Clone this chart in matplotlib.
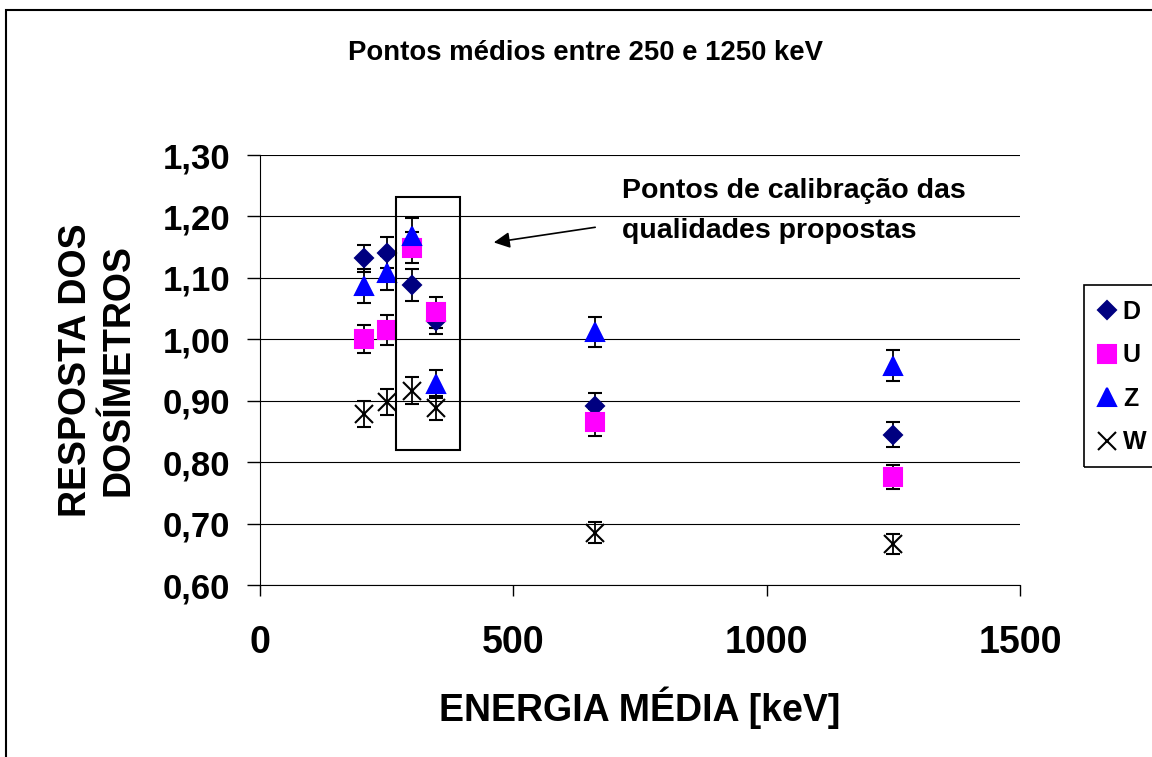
import matplotlib
matplotlib.use("Agg")
import matplotlib.pyplot as plt
from matplotlib.lines import Line2D
from matplotlib.patches import Rectangle
from matplotlib.ticker import FuncFormatter

plt.rcParams['font.family'] = ['Liberation Sans', 'DejaVu Sans']
plt.rcParams['font.weight'] = 'bold'

# mean energies [keV] and dosimeter responses
energia = [205, 250, 300, 347, 661, 1250]

resp_D = [1.132, 1.141, 1.089, 1.030, 0.891, 0.845]
err_D = [0.022, 0.025, 0.026, 0.022, 0.022, 0.021]
resp_U = [1.001, 1.015, 1.149, 1.044, 0.865, 0.776]
err_U = [0.023, 0.025, 0.025, 0.025, 0.022, 0.019]
resp_Z = [1.087, 1.108, 1.168, 0.927, 1.012, 0.957]
err_Z = [0.028, 0.027, 0.030, 0.023, 0.025, 0.025]
resp_W = [0.879, 0.898, 0.916, 0.888, 0.685, 0.667]
err_W = [0.021, 0.021, 0.022, 0.020, 0.017, 0.016]

series = [
    ("D", resp_D, err_D, "D", 9.3, "#000080"),
    ("U", resp_U, err_U, "s", 13, "#FF00FF"),
    ("Z", resp_Z, err_Z, "^", 13, "#0000FF"),
    ("W", resp_W, err_W, "x", 13, "black"),
]

fig = plt.figure(figsize=(11.52, 7.57), dpi=100)
ax = fig.add_axes([260 / 1152, 1 - 585 / 757, 760 / 1152, 430 / 757])

handles = []
for nome, y, e, mk, ms, cor in series:
    ax.errorbar(energia, y, yerr=e, fmt=mk, ms=ms, color=cor, mec=cor,
                mew=1.5, ecolor="black", elinewidth=1.3, capsize=5, capthick=1.3)
    handles.append(Line2D([], [], ls="none", marker=mk, ms=ms, color=cor,
                          mec=cor, mew=1.5, label=nome))

ax.set_xlim(0, 1500)
ax.set_ylim(0.60, 1.30)
ax.set_xticks([0, 500, 1000, 1500])
ax.set_yticks([0.6, 0.7, 0.8, 0.9, 1.0, 1.1, 1.2, 1.3])
ax.yaxis.set_major_formatter(FuncFormatter(lambda v, p: f"{v:.2f}".replace(".", ",")))
ax.tick_params(axis="x", labelsize=27, length=8, width=1, pad=21)
ax.tick_params(axis="y", labelsize=25, length=9.5, width=1, pad=12)
ax.yaxis.grid(True, color="black", lw=0.8)
ax.set_axisbelow(True)
for s in ["top", "right"]:
    ax.spines[s].set_visible(False)

ax.set_xlabel("ENERGIA MÉDIA [keV]", fontsize=27, fontweight="bold")
ax.xaxis.set_label_coords(0.5, -0.237)
ax.set_ylabel("RESPOSTA DOS\nDOSÍMETROS", fontsize=27, fontweight="bold", linespacing=1.22)
ax.yaxis.set_label_coords(-0.163, 0.5)

# box around calibration points
ax.add_patch(Rectangle((268, 0.820), 126, 0.412, fill=False, lw=1.5,
                       ec="black", clip_on=False, zorder=5))
ax.annotate("", xy=(456, 1.157), xytext=(667, 1.183),
            arrowprops=dict(arrowstyle="-|>", color="black", lw=1.2, mutation_scale=24))

fig.text(622 / 1152, 1 - 198 / 757, "Pontos de calibração das", fontsize=20.5,
         va="baseline", ha="left")
fig.text(622 / 1152, 1 - 238 / 757, "qualidades propostas", fontsize=20.5,
         va="baseline", ha="left")

fig.text(585 / 1152, 1 - 60 / 757, "Pontos médios entre 250 e 1250 keV",
         fontsize=19.8, va="baseline", ha="center")

leg = fig.legend(handles=handles, loc="upper left",
                 bbox_to_anchor=(1084 / 1152, 1 - 285 / 757), borderaxespad=0,
                 fontsize=18, frameon=False, borderpad=0.6, handlelength=0.6,
                 handletextpad=0.35, labelspacing=0.78)
for t in leg.get_texts():
    t.set_fontweight("bold")
# legend frame runs off the right edge of the chart
fig.add_artist(Rectangle((1084 / 1152, 1 - 467 / 757), 0.2, 182 / 757, fill=False,
                         lw=1.2, ec="black", transform=fig.transFigure))

# outer chart border
fig.add_artist(Rectangle((6 / 1152, -0.1), 1.2, 1.1 - 10 / 757, fill=False,
                         lw=1.5, ec="black", transform=fig.transFigure))

fig.savefig("out.png", dpi=100)
